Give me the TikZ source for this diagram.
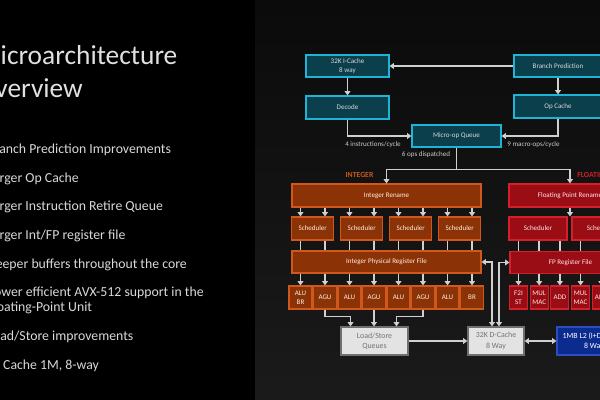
\documentclass[tikz,border=0pt]{standalone}
\usepackage{fontspec}
\setmainfont{Carlito}
\usetikzlibrary{arrows.meta}
\definecolor{panel}{HTML}{212121}
\definecolor{tealfill}{HTML}{0B3F4C}
\definecolor{tealedge}{HTML}{1FB4D6}
\definecolor{intfill}{HTML}{8B3206}
\definecolor{intedge}{HTML}{D0581C}
\definecolor{fpfill}{HTML}{9A0D15}
\definecolor{fpedge}{HTML}{D4202A}
\definecolor{grayfill}{HTML}{E3E3E3}
\definecolor{grayedge}{HTML}{6F6F6F}
\definecolor{l2fill}{HTML}{0B2B8F}
\definecolor{l2edge}{HTML}{2C4FC0}
\definecolor{wire}{HTML}{D0D0D0}
\definecolor{inttext}{HTML}{C85A1E}
\definecolor{fptext}{HTML}{D0202A}
\begin{document}
\begin{tikzpicture}[x=0.025cm,y=-0.025cm,
    every node/.style={font=\fontsize{5}{6.2}\selectfont,align=center,inner sep=0pt},
    box/.style={line width=0.8pt,minimum height=5.5mm},
    tealbox/.style={box,draw=tealedge,fill=tealfill,text=white!85!black},
    intbox/.style={box,draw=intedge,fill=intfill,text=white!88!orange},
    fpbox/.style={box,draw=fpedge,fill=fpfill,text=white!90!red},
    graybox/.style={box,draw=grayedge,fill=grayfill,text=black!55,minimum height=7mm,
        font=\fontsize{5.6}{7.4}\selectfont},
    l2box/.style={box,draw=l2edge,fill=l2fill,text=white,minimum height=7mm,
        font=\fontsize{5.6}{7.4}\selectfont},
    bullet/.style={anchor=west,text=white!85!black,font=\fontsize{9.8}{10.8}\selectfont,align=left},
    heading/.style={anchor=base west,text=white!88!black,font=\fontsize{19.5}{22}\selectfont},
    wirelabel/.style={text=white!80!black},
    line/.style={draw=wire,line width=1.1pt},
    arr/.style={line,-{Triangle[width=4pt,length=3pt]}},
    arr2/.style={line,{Triangle[width=4pt,length=3pt]}-{Triangle[width=4pt,length=3pt]}}]
\useasboundingbox (0,0) rectangle (600,400);
\clip (0,0) rectangle (600,400);
\fill[black] (0,0) rectangle (600,400);
\shade[top color=panel!110!white,bottom color=panel!80!black] (255,0) rectangle (600,400);

\node[heading] (title1) at (-23,65) {Microarchitecture};
\node[heading] (title2) at (-23,98) {Overview};
\node[bullet] (b1) at (-13,150) {Branch Prediction Improvements};
\node[bullet] (b2) at (-13,179) {Larger Op Cache};
\node[bullet] (b3) at (-13,207) {Larger Instruction Retire Queue};
\node[bullet] (b4) at (-13,236) {Larger Int/FP register file};
\node[bullet] (b5) at (-13,265) {Deeper buffers throughout the core};
\node[bullet] (b6) at (-13,300.5) {Power efficient AVX-512 support in the\\Floating-Point Unit};
\node[bullet] (b7) at (-13,337) {Load/Store improvements};
\node[bullet] (b8) at (-13,366) {L2 Cache 1M, 8-way};

\node[tealbox,minimum width=20.75mm] (icache) at (347.5,66) {32K I-Cache\\8 way};
\node[tealbox,minimum width=22mm] (bp) at (558,66) {Branch Prediction};
\node[tealbox,minimum width=20.75mm,minimum height=5.75mm] (decode) at (347.5,107.5) {Decode};
\node[tealbox,minimum width=22mm,minimum height=5.75mm] (opcache) at (558,106.5) {Op Cache};
\node[tealbox,minimum width=22.25mm] (uopq) at (456.5,136) {Micro-op Queue};
\node[wirelabel] (ipc) at (373,144.7) {4 instructions/cycle};
\node[wirelabel] (mpc) at (533.5,144.7) {9 macro-ops/cycle};
\node[wirelabel] (disp) at (426,155) {6 ops dispatched};

\node[text=inttext,font=\bfseries\fontsize{5.5}{6}\selectfont] (intlabel) at (359.5,174.5) {INTEGER};
\node[text=fptext,font=\bfseries\fontsize{5.5}{6}\selectfont,anchor=west] (fplabel) at (577,174.5) {FLOATING POINT};

\node[intbox,minimum width=47.25mm,minimum height=5.75mm] (irename) at (386.5,195.5) {Integer Rename};
\foreach \i in {0,...,3}
    \node[intbox,minimum width=10.5mm,minimum height=5.75mm] (is\i) at (312.75+49*\i,228.5) {Scheduler};
\node[intbox,minimum width=47.25mm] (iprf) at (386.5,262) {Integer Physical Register File};
\foreach \i/\t in {0/{ALU\\BR},1/AGU,2/ALU,3/AGU,4/ALU,5/AGU,6/ALU,7/BR}
    \node[intbox,minimum width=5.75mm,minimum height=5.75mm] (u\i) at (300.5+24.5*\i,297.5) {\t};

\node[fpbox,minimum width=30.5mm,minimum height=5.75mm] (frename) at (570,195.5) {Floating Point Rename};
\node[fpbox,minimum width=14.5mm,minimum height=5.75mm] (fs0) at (538,228.5) {Scheduler};
\node[fpbox,minimum width=14.5mm,minimum height=5.75mm] (fs1) at (601,228.5) {Scheduler};
\node[fpbox,minimum width=30.25mm] (fprf) at (570.5,262.5) {FP Register File};
\foreach \i/\t in {0/{F2I\\ST},1/{MUL\\MAC},2/ADD,3/{MUL\\MAC},4/ADD}
    \node[fpbox,minimum width=4.5mm,minimum height=5.75mm] (f\i) at (518.5+20.7*\i,297.5) {\t};

\node[graybox,minimum width=16.75mm] (lsq) at (374.5,341) {Load/Store\\Queues};
\node[graybox,minimum width=14mm] (dcache) at (496,341) {32K D-Cache\\8 Way};
\node[l2box,minimum width=18.5mm] (l2) at (594,341) {1MB L2 (I+D) Cache\\8 Way};

\draw[arr] (bp) -- (icache);
\draw[arr] (icache) -- (decode);
\draw[arr] (bp) -- (opcache);
\draw[arr] (decode.south) |- (uopq.west);
\draw[arr] (opcache.south) |- (uopq.east);
\path (uopq.south) ++(0,22) coordinate (split);
\draw[line] (uopq.south) -- (split);
\draw[arr] (split) -| (irename.north);
\draw[arr] (split) -| (frename.north);
\draw[arr] (frename.south) -- (frename.south |- fs0.north);

\foreach \i in {0,...,7} {
    \draw[arr] (u\i |- irename.south) -- (u\i |- is0.north);
    \draw[line] (u\i |- is0.south) -- (u\i |- iprf.north);
    \draw[arr] (u\i |- iprf.south) -- (u\i.north);
}
\foreach \i in {0,...,4} {
    \draw[line] (f\i |- fs0.south) -- (f\i |- fprf.north);
    \draw[arr] (f\i |- fprf.south) -- (f\i.north);
}

\draw[arr] (u1.south) -- ++(0,7) -| ([xshift=-6mm]lsq.north);
\draw[arr] (u3.south) -- (u3.south |- lsq.north);
\draw[arr] (u5.south) -- ++(0,7) -| ([xshift=5.5mm]lsq.north);
\draw[arr] (lsq) -- (dcache);
\draw[arr2] (dcache) -- (l2);
\draw[arr2] (iprf.east) -| ([xshift=-1mm]dcache.north);
\draw[arr2] (fprf.west) -| ([xshift=0.75mm]dcache.north);
\end{tikzpicture}
\end{document}
